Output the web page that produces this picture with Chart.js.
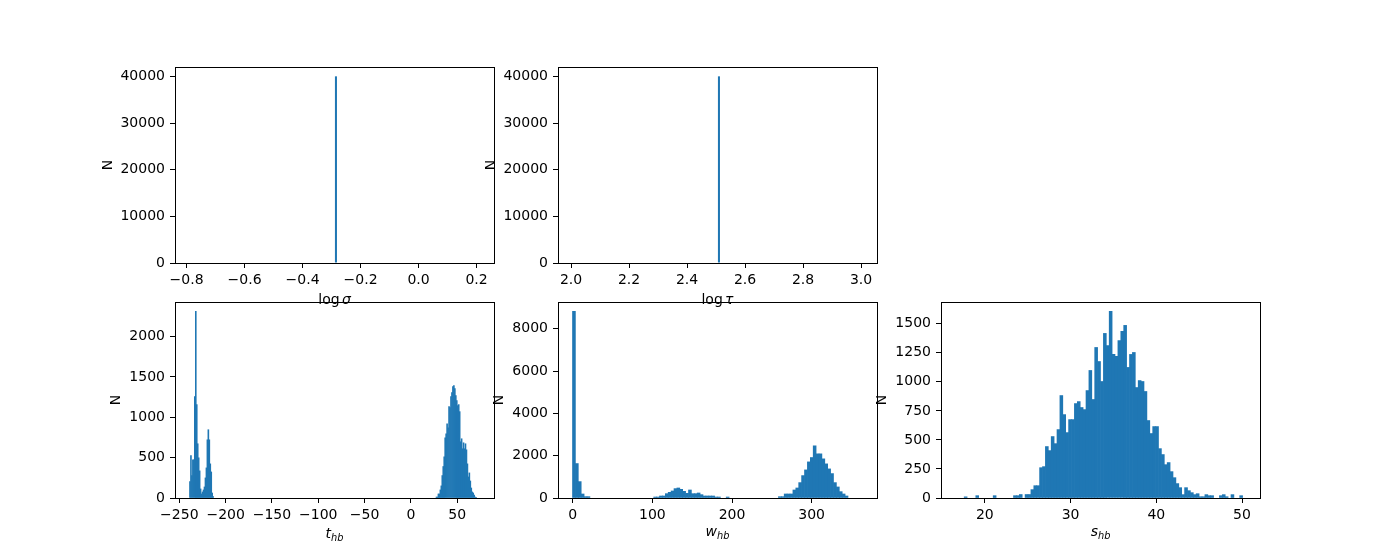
<!DOCTYPE html>
<html>
<head>
<meta charset="utf-8">
<script src="https://cdn.jsdelivr.net/npm/chart.js@4.4.1/dist/chart.umd.min.js"></script>
<style>
  html, body { margin: 0; padding: 0; background: #fff; }
  #fig { position: relative; width: 1400px; height: 560px; overflow: hidden; background: #fff; }
  #fig canvas { position: absolute; }
</style>
</head>
<body>
<div id="fig"></div>
<script>
"use strict";

/* log sigma and log tau: every sample falls in one bin of width 0.01 */
var sigmaRange = [-0.79, 0.21];
var sigmaBins = [-0.295, -0.285, -0.275];
var sigmaCounts = [0, 40000, 0];

var tauRange = [2.005, 3.005];
var tauBins = [2.50, 2.51, 2.52];
var tauCounts = [0, 40000, 0];

/* t_hb: 300 bins, only the two occupied clusters are listed */
var tLo = -239.0, tStep = 1.0433, tNBins = 300;
var tLeftFirst = 0;
var tLeftCounts = [203, 527, 278, 473, 473, 1256, 2313, 1157, 672, 498, 336, 112, 50,
  75, 100, 137, 249, 373, 721, 846, 721, 423, 323, 62, 17];
var tRightFirst = 255;
var tRightCounts = [12, 12, 50, 50, 100, 150, 278, 390, 510, 746, 796, 920, 871, 1132,
  1119, 1256, 1306, 1381, 1393, 1356, 1269, 1207, 1144, 1157, 1070, 697, 734, 610, 684,
  610, 672, 597, 423, 261, 311, 211, 124, 75, 62, 37, 12, 8, 0, 0, 0];

/* w_hb: 100 bins */
var wLo = -0.2, wStep = 3.64;
var wCounts = [8822, 1628, 775, 190, 63, 63, 0, 0, 0, 0,
  0, 0, 0, 0, 0, 0, 0, 0, 0, 0,
  0, 0, 0, 0, 0, 0, 0, 0, 47, 47,
  95, 95, 205, 269, 332, 443, 474, 411, 316, 221,
  379, 205, 205, 237, 158, 95, 95, 95, 95, 47,
  47, 0, 0, 47, 0, 0, 0, 0, 0, 0,
  0, 0, 0, 0, 0, 0, 0, 0, 0, 0,
  0, 63, 63, 190, 190, 190, 379, 474, 727, 1059,
  1328, 1707, 1913, 2466, 2087, 2087, 1850, 1613, 1375, 1154,
  727, 522, 300, 190, 95, 0, 0, 0, 0, 0];

/* s_hb: 100 bins */
var sLo = 16.575, sStep = 0.3383;
var sCounts = [0, 0, 0, 10, 0, 0, 0, 20, 0, 0,
  0, 0, 0, 20, 0, 0, 0, 0, 0, 0,
  20, 20, 30, 0, 30, 30, 72, 106, 106, 261,
  270, 443, 408, 529, 468, 589, 882, 718, 563, 675,
  675, 813, 830, 779, 761, 925, 1098, 848, 1296, 1175,
  1003, 1417, 1313, 1607, 1236, 1219, 1356, 1434, 1486, 1124,
  1236, 1253, 951, 1011, 1003, 917, 667, 555, 615, 615,
  425, 374, 287, 305, 227, 175, 124, 89, 29, 89,
  63, 46, 29, 37, 11, 11, 29, 20, 20, 0,
  0, 20, 29, 11, 0, 29, 0, 0, 20, 0];

/* tick labels */
var sigmaTicks = [-0.8, -0.6, -0.4, -0.2, 0.0, 0.2];
var tauTicks = [2.0, 2.2, 2.4, 2.6, 2.8, 3.0];
var tTicks = [-250, -200, -150, -100, -50, 0, 50];
var wTicks = [0, 100, 200, 300];
var sTicks = [20, 30, 40, 50];
var bigYTicks = [0, 10000, 20000, 30000, 40000];
var tYTicks = [0, 500, 1000, 1500, 2000];
var wYTicks = [0, 2000, 4000, 6000, 8000];
var sYTicks = [0, 250, 500, 750, 1000, 1250, 1500];

var FONT = "'DejaVu Sans', sans-serif";
Chart.defaults.font.family = FONT;
Chart.defaults.font.size = 14;
Chart.defaults.color = '#000';

var BAR = '#1f77b4';
var AX_W = 319, AX_H = 196;
var PAD_L = 90, PAD_T = 16, PAD_R = 25, PAD_B = 56;

function centers(lo, step, first, n) {
  var out = [];
  for (var i = 0; i < n; i++) out.push(lo + (first + i + 0.5) * step);
  return out;
}

function margins(lo, hi) {
  var m = 0.05 * (hi - lo);
  return [lo - m, hi + m];
}

function fmt(v, d) {
  return v.toFixed(d).replace('-', '\u2212');
}

// axis label with italic letters and subscripts, matplotlib mathtext style
function drawMath(ctx, runs, cx, top) {
  var items = runs.map(function(r) {
    var size = r.sub ? 9.8 : 14;
    var font = (r.it ? 'italic ' : '') + size + 'px ' + FONT;
    ctx.font = font;
    var m = ctx.measureText(r.t);
    return { r: r, font: font, w: m.width, asc: m.actualBoundingBoxAscent - (r.sub ? 3.2 : 0) };
  });
  var total = 0, asc = 0;
  items.forEach(function(it) { total += it.w + (it.r.gap || 0); asc = Math.max(asc, it.asc); });
  var x = cx - total / 2, base = top + asc;
  ctx.textAlign = 'left';
  ctx.textBaseline = 'alphabetic';
  items.forEach(function(it) {
    x += it.r.gap || 0;
    ctx.font = it.font;
    ctx.fillText(it.r.t, x, base + (it.r.sub ? 3.2 : 0));
    x += it.w;
  });
}

function makeDecor(label) {
  return {
    id: 'decor',
    afterDraw: function(chart) {
      var ctx = chart.ctx, a = chart.chartArea;
      ctx.save();
      // frame on all four sides
      var l = Math.floor(a.left), t = Math.floor(a.top);
      var r = Math.floor(a.right), b = Math.floor(a.bottom);
      ctx.strokeStyle = '#000';
      ctx.lineWidth = 1;
      ctx.strokeRect(l + 0.5, t + 0.5, r - l, b - t);

      ctx.fillStyle = '#000';
      // y label "N" left of the widest tick label
      ctx.font = '14px ' + FONT;
      var widest = 0;
      chart.scales.y.ticks.forEach(function(tk) {
        widest = Math.max(widest, ctx.measureText(tk.label).width);
      });
      var bx = a.left - 10 - widest - 5.6 - 3.3;
      ctx.save();
      ctx.translate(bx, (a.top + a.bottom) / 2);
      ctx.rotate(-Math.PI / 2);
      ctx.textAlign = 'center';
      ctx.textBaseline = 'alphabetic';
      ctx.fillText('N', 0, 0);
      ctx.restore();

      drawMath(ctx, label, (a.left + a.right) / 2, a.bottom + 30);
      ctx.restore();
    }
  };
}

function histPanel(left, top, xs, counts, xlim, xTicks, xDec, yTicks, label, barFrac) {
  var canvas = document.createElement('canvas');
  canvas.width = PAD_L + AX_W + PAD_R;
  canvas.height = PAD_T + AX_H + PAD_B;
  canvas.style.left = (left - PAD_L) + 'px';
  canvas.style.top = (top - PAD_T) + 'px';
  document.getElementById('fig').appendChild(canvas);

  var pts = xs.map(function(x, i) {
    return { x: x, y: counts[i] === 0 ? null : counts[i] };
  });
  var ymax = Math.max.apply(null, counts) * 1.05;
  var tickGrid = { display: true, drawOnChartArea: false, drawTicks: true, tickLength: 5,
                   color: '#000', lineWidth: 1, offset: false };

  return new Chart(canvas, {
    type: 'bar',
    data: {
      datasets: [{
        data: pts,
        backgroundColor: BAR,
        borderWidth: 0,
        barPercentage: barFrac || 1,
        categoryPercentage: 1
      }]
    },
    options: {
      responsive: false,
      animation: false,
      events: [],
      layout: { padding: { left: 0, top: PAD_T, right: PAD_R, bottom: 0 } },
      plugins: { legend: { display: false }, tooltip: { enabled: false } },
      scales: {
        x: {
          type: 'linear',
          min: xlim[0],
          max: xlim[1],
          bounds: 'data',
          offset: false,
          grid: tickGrid,
          border: { display: false },
          afterBuildTicks: function(s) { s.ticks = xTicks.map(function(v) { return { value: v }; }); },
          afterFit: function(s) { s.height = PAD_B; },
          ticks: { padding: 4, autoSkip: false, maxRotation: 0, color: '#000',
                   callback: function(v) { return fmt(v, xDec); } }
        },
        y: {
          type: 'linear',
          min: 0,
          max: ymax,
          bounds: 'data',
          grid: tickGrid,
          border: { display: false },
          afterBuildTicks: function(s) { s.ticks = yTicks.map(function(v) { return { value: v }; }); },
          afterFit: function(s) { s.width = PAD_L; },
          ticks: { padding: 5, autoSkip: false, color: '#000',
                   callback: function(v) { return String(v); } }
        }
      }
    },
    plugins: [makeDecor(label)]
  });
}

/* log sigma */
histPanel(175, 67, sigmaBins, sigmaCounts, margins(sigmaRange[0], sigmaRange[1]),
  sigmaTicks, 1, bigYTicks, [{ t: 'log' }, { t: '\u03c3', it: true, gap: 2.3 }], 0.7);

/* log tau */
histPanel(558, 67, tauBins, tauCounts, margins(tauRange[0], tauRange[1]),
  tauTicks, 1, bigYTicks, [{ t: 'log' }, { t: '\u03c4', it: true, gap: 2.3 }], 0.7);

/* t_hb */
var tXs = centers(tLo, tStep, tLeftFirst, tLeftCounts.length)
  .concat(centers(tLo, tStep, tRightFirst, tRightCounts.length));
histPanel(175, 302, tXs, tLeftCounts.concat(tRightCounts),
  margins(tLo, tLo + tNBins * tStep), tTicks, 0, tYTicks,
  [{ t: 't', it: true }, { t: 'hb', it: true, sub: true }]);

/* w_hb */
histPanel(558, 302, centers(wLo, wStep, 0, wCounts.length), wCounts,
  margins(wLo, wLo + wCounts.length * wStep), wTicks, 0, wYTicks,
  [{ t: 'w', it: true }, { t: 'hb', it: true, sub: true }]);

/* s_hb */
histPanel(941, 302, centers(sLo, sStep, 0, sCounts.length), sCounts,
  margins(sLo, sLo + sCounts.length * sStep), sTicks, 0, sYTicks,
  [{ t: 's', it: true }, { t: 'hb', it: true, sub: true }]);
</script>
</body>
</html>
